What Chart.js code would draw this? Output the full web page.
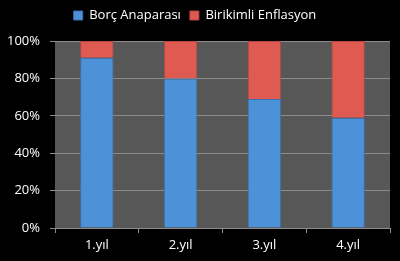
<!DOCTYPE html>
<html>
<head>
<meta charset="utf-8">
<script src="https://cdn.jsdelivr.net/npm/chart.js@4/dist/chart.umd.min.js"></script>
<style>
  html, body { margin: 0; padding: 0; background: #000; }
  #wrap { width: 400px; height: 261px; }
</style>
</head>
<body>
<div id="wrap"><canvas id="chart" width="400" height="261"></canvas></div>
<script>
// values (percent)
const years = ['1.yıl', '2.yıl', '3.yıl', '4.yıl'];
const principal = [91, 80, 69, 59];
const inflation = [9, 20, 31, 41];
const yTicks = [0, 20, 40, 60, 80, 100];

// paint the grey plot area behind the bars
const plotBackground = {
    id: 'plotBackground',
    beforeDraw: (chart) => {
        const { ctx, chartArea: a } = chart;
        ctx.save();
        ctx.fillStyle = '#575757';
        ctx.fillRect(a.left, a.top, a.right - a.left, a.bottom - a.top);
        ctx.restore();
    }
};

// leave a bit more room between legend and plot
const legendGap = {
    id: 'legendGap',
    beforeLayout: (chart) => {
        const legend = chart.legend;
        if (legend && !legend._gapPatched) {
            const fit = legend.fit;
            legend.fit = function () {
                fit.call(this);
                this.height += 9;
            };
            legend._gapPatched = true;
        }
    }
};

const ctx = document.getElementById('chart').getContext('2d');

new Chart(ctx, {
    type: 'bar',
    data: {
        labels: years,
        datasets: [{
            label: 'Borç Anaparası',
            data: principal,
            backgroundColor: '#4d91d8',
            borderColor: '#3a72b0',
            borderWidth: 1,
            categoryPercentage: 1,
            barPercentage: 0.4
        }, {
            label: 'Birikimli Enflasyon',
            data: inflation,
            backgroundColor: '#df5a50',
            borderColor: '#b44640',
            borderWidth: 1,
            categoryPercentage: 1,
            barPercentage: 0.4
        }]
    },
    options: {
        responsive: false,
        animation: false,
        layout: { padding: { top: 0, right: 10, left: 0, bottom: 0 } },
        plugins: {
            legend: {
                position: 'top',
                labels: {
                    color: '#ffffff',
                    font: { family: 'Open Sans', size: 13 },
                    boxWidth: 9,
                    boxHeight: 9,
                    padding: 9
                }
            },
            tooltip: { enabled: false }
        },
        scales: {
            x: {
                stacked: true,
                offset: true,
                grid: {
                    offset: true,
                    drawOnChartArea: false,
                    color: '#8c8c8c',
                    tickLength: 5
                },
                border: { color: '#8c8c8c' },
                ticks: {
                    color: '#ffffff',
                    font: { family: 'Open Sans', size: 13 },
                    padding: 4
                },
                afterFit: (scale) => { scale.height = 33; }
            },
            y: {
                stacked: true,
                min: 0,
                max: 100,
                afterBuildTicks: (scale) => {
                    scale.ticks = yTicks.map(v => ({ value: v }));
                },
                grid: {
                    color: '#8c8c8c',
                    tickLength: 5
                },
                border: { display: false },
                ticks: {
                    color: '#ffffff',
                    font: { family: 'Open Sans', size: 13 },
                    padding: 10,
                    callback: (v) => v + '%'
                },
                afterFit: (scale) => { scale.width = 55; }
            }
        }
    },
    plugins: [plotBackground, legendGap]
});
</script>
</body>
</html>
